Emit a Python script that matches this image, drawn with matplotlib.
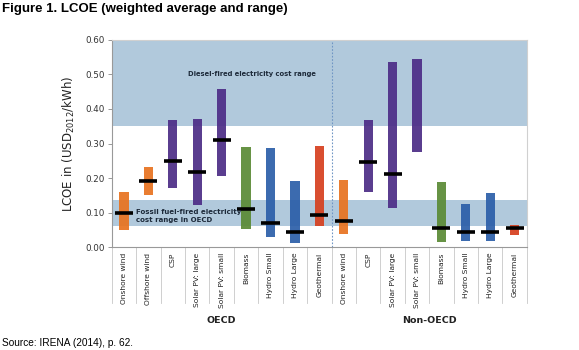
import matplotlib
matplotlib.use("Agg")
import matplotlib.pyplot as plt
import matplotlib.transforms as mtransforms

categories = ["Onshore wind", "Offshore wind", "CSP", "Solar PV: large", "Solar PV: small",
              "Biomass", "Hydro Small", "Hydro Large", "Geothermal",
              "Onshore wind", "CSP", "Solar PV: large", "Solar PV: small",
              "Biomass", "Hydro Small", "Hydro Large", "Geothermal"]
groups = ["OECD", "Non-OECD"]
group_sizes = [9, 8]
low = [0.050, 0.151, 0.171, 0.122, 0.205, 0.051, 0.029, 0.013, 0.060,
       0.037, 0.161, 0.114, 0.276, 0.014, 0.018, 0.018, 0.035]
high = [0.159, 0.231, 0.367, 0.372, 0.459, 0.290, 0.288, 0.190, 0.294,
        0.194, 0.367, 0.537, 0.546, 0.189, 0.124, 0.158, 0.064]
mean = [0.100, 0.191, 0.250, 0.217, 0.311, 0.111, 0.070, 0.045, 0.092,
        0.077, 0.247, 0.212, None, 0.055, 0.045, 0.045, 0.055]
tech = ["wind", "wind", "solar", "solar", "solar", "bio", "hydro", "hydro", "geo",
        "wind", "solar", "solar", "solar", "bio", "hydro", "hydro", "geo"]
diesel_range = (0.35, 0.60)
fossil_range = (0.06, 0.137)
yticks = [0.0, 0.1, 0.2, 0.3, 0.4, 0.5, 0.6]

colors = {"wind": "#e8721f", "solar": "#4c2c86", "bio": "#5a8a35",
          "hydro": "#2b5ea8", "geo": "#d63f1e"}
band_color = "#b1c9dc"

fig = plt.figure(figsize=(5.79, 3.5), dpi=100)
ax = fig.add_axes([0.193, 0.294, 0.717, 0.592])

n = len(categories)
ax.set_xlim(-0.5, n - 0.5)
ax.set_ylim(0, 0.6)

ax.axhspan(*diesel_range, color=band_color, zorder=0, lw=0)
ax.axhspan(*fossil_range, color=band_color, zorder=0, lw=0)

for i in range(n):
    ax.bar(i, high[i] - low[i], bottom=low[i], width=0.38,
           color=colors[tech[i]], alpha=0.92, zorder=2, lw=0)
    if mean[i] is not None:
        ax.hlines(mean[i], i - 0.37, i + 0.37, color="black", lw=2.6, zorder=3)

ax.axvline(group_sizes[0] - 0.5, color="#6f95c4", ls=(0, (1.5, 1.5)), lw=0.8, zorder=1)

ax.text(5.25, 0.50, "Diesel-fired electricity cost range", fontsize=4.9,
        fontweight="bold", color="#1d2a3a", ha="center", va="center")
ax.text(0.48, 0.089, "Fossil fuel-fired electricity\ncost range in OECD", fontsize=5.0,
        fontweight="bold", color="#1d2a3a", ha="left", va="center", linespacing=1.35,
        zorder=4)

ax.set_yticks(yticks)
ax.set_yticklabels([f"{v:.2f}" for v in yticks], fontsize=6.3, color="#333333")
ax.tick_params(axis="y", length=3, width=0.6, color="#888888", pad=2)
ax.set_xticks(range(n))
ax.set_xticklabels(categories, rotation=90, fontsize=5.4, color="#222222",
                   ha="center", va="top")
ax.tick_params(axis="x", length=0, pad=4)
ax.set_ylabel("LCOE in (USD$_{2012}$/kWh)", fontsize=8.5, color="#222222", labelpad=6)

for side in ["top", "right"]:
    ax.spines[side].set_color("#d0d0d0")
    ax.spines[side].set_linewidth(0.8)
for side in ["left", "bottom"]:
    ax.spines[side].set_color("#999999")
    ax.spines[side].set_linewidth(0.8)

trans = mtransforms.blended_transform_factory(ax.transData, ax.transAxes)
for k in range(n + 1):
    ax.plot([k - 0.5, k - 0.5], [0, -0.27], transform=trans, color="#c8c8c8",
            lw=0.6, clip_on=False)

start = 0
for g, s in zip(groups, group_sizes):
    ax.text(start + (s - 1) / 2, -0.355, g, transform=trans, fontsize=6.8,
            fontweight="bold", color="#222222", ha="center", va="center")
    start += s

fig.text(0.003, 0.975, "Figure 1. LCOE (weighted average and range)", fontsize=9.5,
         fontweight="bold", family="Liberation Sans", ha="left", va="center")
fig.text(0.003, 0.02, "Source: IRENA (2014), p. 62.", fontsize=7.3,
         family="Liberation Sans", ha="left", va="center")

fig.savefig("out.png", dpi=100)
